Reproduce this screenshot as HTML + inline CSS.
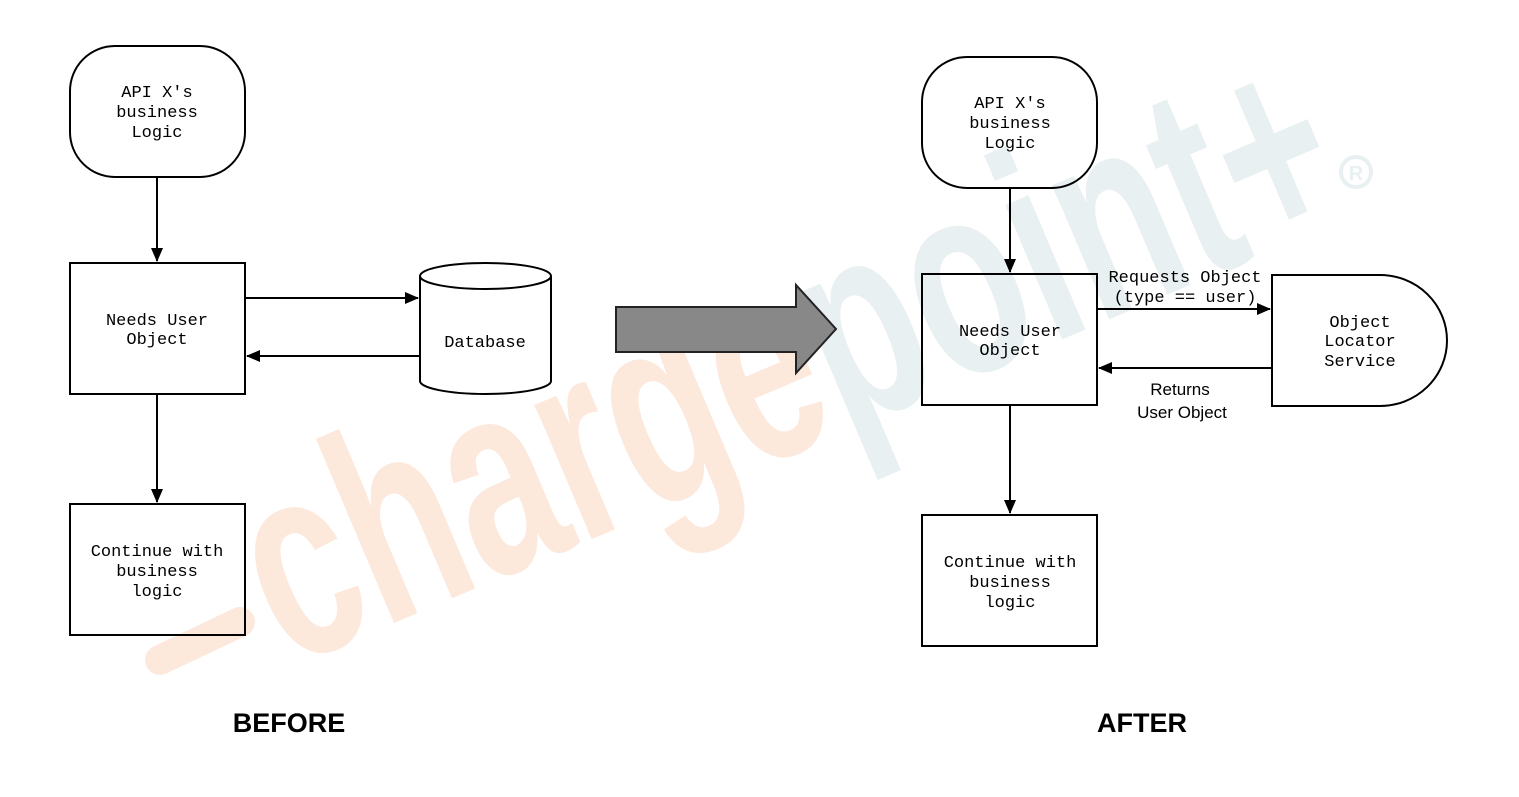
<!DOCTYPE html>
<html><head><style>body{margin:0;background:#fff}svg{display:block}</style></head><body>
<svg width="1519" height="797" viewBox="0 0 1519 797" xmlns="http://www.w3.org/2000/svg">
<defs><marker id="b" markerWidth="14" markerHeight="12" refX="13" refY="6" orient="auto" markerUnits="userSpaceOnUse"><path d="M0,0 L14,6 L0,12 Z" fill="#000"/></marker></defs>
<line x1="160" y1="660" x2="240" y2="622" stroke="#fde8dc" stroke-width="30" stroke-linecap="round"/>
<g transform="translate(288,668) rotate(-23)" font-family="Liberation Sans, sans-serif" font-weight="bold" font-size="230">
<text x="0" y="0" transform="scale(0.8,1.2)" fill="#fde8dc">charge<tspan fill="#e9f0f2">point+</tspan></text>
</g>
<circle cx="1356" cy="172" r="15" fill="none" stroke="#e9f0f2" stroke-width="4"/>
<text x="1356" y="180" font-family="Liberation Sans" font-size="20" font-weight="bold" fill="#e9f0f2" text-anchor="middle">R</text>
<g fill="none" stroke="#000" stroke-width="2">
<rect x="70" y="46" width="175" height="131" rx="45"/>
<rect x="70" y="263" width="175" height="131"/>
<rect x="70" y="504" width="175" height="131"/>
<path d="M420,276 V381 A65.5,13 0 0 0 551,381 V276"/>
<ellipse cx="485.5" cy="276" rx="65.5" ry="13"/>
<line x1="157" y1="177" x2="157" y2="261" marker-end="url(#b)"/>
<line x1="157" y1="394" x2="157" y2="502" marker-end="url(#b)"/>
<line x1="245" y1="298" x2="418" y2="298" marker-end="url(#b)"/>
<line x1="420" y1="356" x2="247" y2="356" marker-end="url(#b)"/>
<rect x="922" y="57" width="175" height="131" rx="45"/>
<rect x="922" y="274" width="175" height="131"/>
<rect x="922" y="515" width="175" height="131"/>
<path d="M1272,275 H1380 A67,65.5 0 0 1 1380,406 H1272 Z"/>
<line x1="1010" y1="188" x2="1010" y2="272" marker-end="url(#b)"/>
<line x1="1010" y1="405" x2="1010" y2="513" marker-end="url(#b)"/>
<line x1="1097" y1="309" x2="1270" y2="309" marker-end="url(#b)"/>
<line x1="1272" y1="368" x2="1099" y2="368" marker-end="url(#b)"/>
</g>
<path d="M616,307 H796 V285 L836,329 L796,373 V352 H616 Z" fill="#888" stroke="#222" stroke-width="2"/>
<g font-family="Liberation Mono, monospace" font-size="17" text-anchor="middle" fill="#000">
<text x="157" y="97">API X's</text><text x="157" y="117">business</text><text x="157" y="137">Logic</text>
<text x="157" y="325">Needs User</text><text x="157" y="344">Object</text>
<text x="157" y="556">Continue with</text><text x="157" y="576">business</text><text x="157" y="596">logic</text>
<text x="485" y="347">Database</text>
<text x="1010" y="108">API X's</text><text x="1010" y="128">business</text><text x="1010" y="148">Logic</text>
<text x="1010" y="336">Needs User</text><text x="1010" y="355">Object</text>
<text x="1010" y="567">Continue with</text><text x="1010" y="587">business</text><text x="1010" y="607">logic</text>
<text x="1360" y="327">Object</text><text x="1360" y="346">Locator</text><text x="1360" y="366">Service</text>
<text x="1185" y="282">Requests Object</text><text x="1185" y="302">(type == user)</text>
</g>
<g font-family="Liberation Sans, sans-serif" font-size="17" text-anchor="middle">
<text x="1180" y="395">Returns</text><text x="1182" y="418">User Object</text>
</g>
<g font-family="Liberation Sans, sans-serif" font-size="27" font-weight="bold" text-anchor="middle">
<text x="289" y="732">BEFORE</text><text x="1142" y="732">AFTER</text>
</g>
</svg>
</body></html>
